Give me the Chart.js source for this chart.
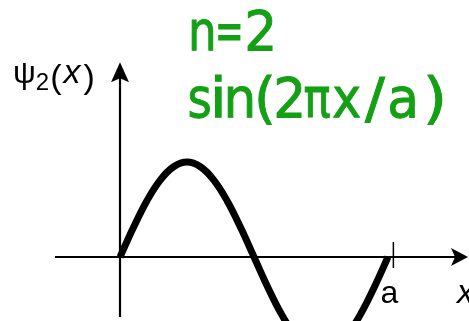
<!DOCTYPE html>
<html>
<head>
<meta charset="utf-8">
<script src="https://cdn.jsdelivr.net/npm/chart.js@4"></script>
<style>
  html, body { margin: 0; padding: 0; background: #fff; }
  #wrap { width: 469px; height: 321px; }
</style>
</head>
<body>
<div id="wrap"><canvas id="psiChart" width="469" height="321"></canvas></div>
<script>
// x in units of a
const xValues = [0, 0.05, 0.1, 0.15, 0.2, 0.25, 0.3, 0.35, 0.4, 0.45, 0.5,
                 0.55, 0.6, 0.65, 0.7, 0.75, 0.8, 0.85, 0.9, 0.95, 1];
const psiValues = [0, 0.31, 0.59, 0.81, 0.95, 1, 0.95, 0.81, 0.59, 0.31, 0,
                   -0.31, -0.59, -0.81, -0.95, -1, -0.95, -0.81, -0.59, -0.31, 0];
const tickLabels = ['a'];
const tickValues = [1.02];
const titleLines = ['n=2', 'sin(2\u03c0x/a)'];

// visible window of the sketch (data units)
const xRange = [-0.4478, 1.3022];
const yRange = [-0.6737, 2.705];
const xAxisSpan = [-0.2425, 1.2985];
const yAxisSpan = [-0.632, 2.05];

const points = xValues.map((x, i) => ({ x: x, y: psiValues[i] }));

const GREEN = '#14a014';

// ink span of each hand-lettered glyph, measured on the reference
const noteLayout = [
    { base: 50, spans: [[192, 213], [218, 240], [248, 273]] },
    { base: 117, spans: [[190, 210], [215, 222], [228, 252], [258, 272], [277, 302],
                         [305, 330], [333, 360], [365, 385], [390, 415], [427, 443]] },
];

// axes with arrow heads, the tick at a, axis labels and the green note
const sketchAxes = {
    id: 'sketchAxes',
    beforeDatasetsDraw(chart) {
        const ctx = chart.ctx;
        const xs = chart.scales.x;
        const ys = chart.scales.y;
        const x0 = xs.getPixelForValue(0);
        const y0 = ys.getPixelForValue(0);

        ctx.save();
        ctx.strokeStyle = '#000';
        ctx.fillStyle = '#000';
        ctx.lineWidth = 2.2;

        // horizontal axis
        const xl = xs.getPixelForValue(xAxisSpan[0]);
        const xr = xs.getPixelForValue(xAxisSpan[1]);
        ctx.beginPath();
        ctx.moveTo(xl, y0);
        ctx.lineTo(xr - 6, y0);
        ctx.stroke();
        ctx.beginPath();
        ctx.moveTo(xr, y0);
        ctx.lineTo(xr - 17, y0 - 9);
        ctx.lineTo(xr - 13, y0);
        ctx.lineTo(xr - 17, y0 + 9);
        ctx.closePath();
        ctx.fill();

        // vertical axis
        const yb = ys.getPixelForValue(yAxisSpan[0]);
        const yt = ys.getPixelForValue(yAxisSpan[1]);
        ctx.beginPath();
        ctx.moveTo(x0, yb);
        ctx.lineTo(x0, yt + 6);
        ctx.stroke();
        ctx.beginPath();
        ctx.moveTo(x0, yt);
        ctx.lineTo(x0 - 9, yt + 20);
        ctx.lineTo(x0, yt + 16);
        ctx.lineTo(x0 + 9, yt + 20);
        ctx.closePath();
        ctx.fill();

        // tick and its label
        ctx.lineWidth = 1.5;
        tickValues.forEach((v, i) => {
            const px = xs.getPixelForValue(v);
            ctx.beginPath();
            ctx.moveTo(px, y0 - 15);
            ctx.lineTo(px, y0 + 11);
            ctx.stroke();
            ctx.font = '32px "Liberation Sans", sans-serif';
            ctx.textAlign = 'center';
            ctx.textBaseline = 'alphabetic';
            ctx.fillText(tickLabels[i], px - 4, y0 + 46);
        });

        // x label at the end of the axis
        ctx.font = 'italic 34px "Liberation Sans", sans-serif';
        ctx.textAlign = 'left';
        ctx.fillText('x', xr - 11, y0 + 46);

        // psi_2(x) label next to the arrow
        let cx = x0 - 107;
        const base = yt + 21;
        ctx.font = '32px "Liberation Sans", sans-serif';
        ctx.fillText('\u03c8', cx, base);
        cx += ctx.measureText('\u03c8').width;
        ctx.font = '24px "Liberation Sans", sans-serif';
        ctx.fillText('2', cx, base + 7);
        cx += ctx.measureText('2').width + 1;
        ctx.font = '34px "Liberation Sans", sans-serif';
        ctx.fillText('(', cx, base + 5);
        cx += ctx.measureText('(').width + 2;
        ctx.font = 'italic 34px "Liberation Sans", sans-serif';
        ctx.fillText('x', cx, base);
        cx += ctx.measureText('x').width + 3;
        ctx.font = '34px "Liberation Sans", sans-serif';
        ctx.fillText(')', cx, base + 5);

        // green note, each glyph fitted to its measured span
        ctx.fillStyle = GREEN;
        ctx.strokeStyle = GREEN;
        ctx.lineWidth = 1;
        ctx.font = '56px "DejaVu Sans", sans-serif';
        ctx.textAlign = 'left';
        titleLines.forEach((line, li) => {
            const lay = noteLayout[li];
            Array.from(line).forEach((ch, ci) => {
                const m = ctx.measureText(ch);
                const inkL = -m.actualBoundingBoxLeft;
                const inkW = m.actualBoundingBoxRight + m.actualBoundingBoxLeft;
                const span = lay.spans[ci];
                let sx = (span[1] - span[0]) / inkW;
                sx = Math.max(0.6, Math.min(1.1, sx));
                const mid = (span[0] + span[1]) / 2;
                ctx.save();
                ctx.translate(mid, lay.base);
                ctx.scale(sx, 1);
                ctx.translate(-(inkL + inkW / 2), 0);
                ctx.fillText(ch, 0, 0);
                ctx.strokeText(ch, 0, 0);
                ctx.restore();
            });
        });

        ctx.restore();
    },
};

const ctx = document.getElementById('psiChart').getContext('2d');
new Chart(ctx, {
    type: 'line',
    data: {
        datasets: [{
            label: 'psi2',
            data: points,
            borderColor: '#000',
            borderWidth: 7,
            tension: 0.4,
            pointRadius: 0,
            fill: false,
        }],
    },
    options: {
        responsive: false,
        animation: false,
        layout: { padding: 0 },
        scales: {
            x: { type: 'linear', min: xRange[0], max: xRange[1], display: false },
            y: { type: 'linear', min: yRange[0], max: yRange[1], display: false },
        },
        plugins: {
            legend: { display: false },
            tooltip: { enabled: false },
        },
    },
    plugins: [sketchAxes],
});
</script>
</body>
</html>
